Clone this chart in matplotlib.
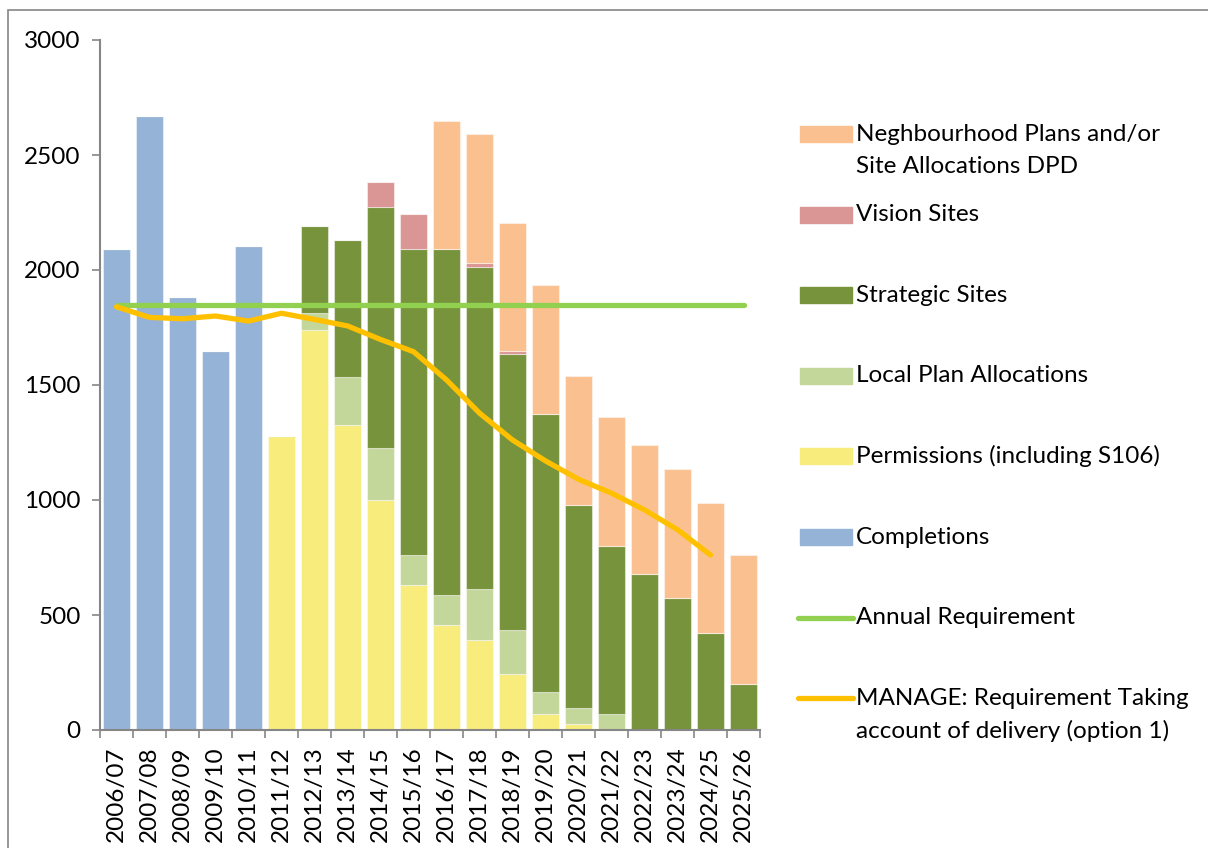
import numpy as np
import matplotlib
matplotlib.use('Agg')
import matplotlib.pyplot as plt
from matplotlib.patches import Rectangle
from matplotlib.lines import Line2D

plt.rcParams['font.family'] = ['Lato', 'DejaVu Sans']

years = ['2006/07', '2007/08', '2008/09', '2009/10', '2010/11', '2011/12', '2012/13',
         '2013/14', '2014/15', '2015/16', '2016/17', '2017/18', '2018/19', '2019/20',
         '2020/21', '2021/22', '2022/23', '2023/24', '2024/25', '2025/26']

completions = [2090, 2668, 1884, 1648, 2104, 0, 0, 0, 0, 0, 0, 0, 0, 0, 0, 0, 0, 0, 0, 0]
permissions = [0, 0, 0, 0, 0, 1278, 1739, 1328, 1002, 632, 457, 393, 242, 70, 26, 0, 0, 0, 0, 0]
local_plan = [0, 0, 0, 0, 0, 0, 75, 207, 224, 130, 131, 220, 193, 97, 71, 70, 0, 0, 0, 0]
strategic = [0, 0, 0, 0, 0, 0, 379, 594, 1049, 1328, 1502, 1400, 1200, 1205, 880, 730, 680, 575, 423, 200]
vision = [0, 0, 0, 0, 0, 0, 0, 0, 106, 155, 0, 16, 11, 0, 0, 0, 0, 0, 0, 0]
neighbourhood = [0, 0, 0, 0, 0, 0, 0, 0, 0, 0, 558, 562, 560, 563, 562, 561, 561, 560, 563, 559]

annual_requirement = 1850
manage = [1840, 1794, 1788, 1800, 1778, 1812, 1785, 1757, 1698, 1645, 1522, 1378, 1261,
          1170, 1090, 1030, 957, 871, 761]

series = [
    ('Completions', completions, '#95B3D7'),
    ('Permissions (including S106)', permissions, '#F7EC7C'),
    ('Local Plan Allocations', local_plan, '#C4D79B'),
    ('Strategic Sites', strategic, '#77933C'),
    ('Vision Sites', vision, '#D99694'),
    ('Neghbourhood Plans and/or\nSite Allocations DPD', neighbourhood, '#FAC090'),
]

FS = 17.5

fig = plt.figure(figsize=(12.08, 8.48), dpi=100)
ax = fig.add_axes([100 / 1208, 1 - 730 / 848, 660 / 1208, 690 / 848])

x = np.arange(len(years))
bottom = np.zeros(len(years))
for name, vals, col in series:
    vals = np.array(vals, dtype=float)
    ax.bar(x, vals, width=0.82, bottom=bottom, color=col, edgecolor=(1, 1, 1, 0.45),
           linewidth=0.8, zorder=2)
    bottom += vals

ax.plot(x, [annual_requirement] * len(x), color='#92D050', lw=3.8,
        solid_capstyle='round', zorder=3)
ax.plot(x[:len(manage)], manage, color='#FFC000', lw=3.8,
        solid_capstyle='round', solid_joinstyle='round', zorder=4)

ax.set_xlim(-0.5, len(years) - 0.5)
ax.set_ylim(0, 3000)
ax.set_yticks(range(0, 3001, 500))
ax.tick_params(axis='y', length=6, width=1.2, color='#868686', labelsize=FS, pad=8)
ax.set_xticks(x)
ax.set_xticklabels(years, rotation=90, fontsize=FS)
ax.tick_params(axis='x', which='major', length=0, pad=12)
ax.set_xticks(np.arange(-0.5, len(years)), minor=True)
ax.tick_params(axis='x', which='minor', length=6, width=1.2, color='#868686')
for s in ['top', 'right']:
    ax.spines[s].set_visible(False)
for s in ['left', 'bottom']:
    ax.spines[s].set_color('#868686')
    ax.spines[s].set_linewidth(1.5)

# legend drawn by hand to match the spacing of the original
W, H = 1208, 848
entries = [(s[0], s[2], 'patch') for s in series[::-1]]
entries += [('Annual Requirement', '#92D050', 'line'),
            ('MANAGE: Requirement Taking\naccount of delivery (option 1)', '#FFC000', 'line')]
for i, (label, col, kind) in enumerate(entries):
    yc = 134 + 80.6 * i
    if kind == 'patch':
        fig.patches.append(Rectangle((800 / W, 1 - (yc + 8) / H), 52 / W, 16 / H,
                                     color=col, transform=fig.transFigure))
    else:
        fig.lines.append(Line2D([798 / W, 853 / W], [1 - yc / H] * 2, color=col, lw=3.8,
                                solid_capstyle='round', transform=fig.transFigure))
    nlines = label.count('\n') + 1
    ty = yc + (nlines - 1) * 33 / 2
    fig.text(856 / W, 1 - ty / H, label, fontsize=FS, va='center', ha='left',
             linespacing=1.62)

# outer border of the chart area
fig.patches.append(Rectangle((8 / W, -0.1), 1.2, 1 - 10 / H + 0.1, fill=False,
                             edgecolor='#868686', lw=1.2, transform=fig.transFigure))

fig.savefig('out.png', dpi=100)
